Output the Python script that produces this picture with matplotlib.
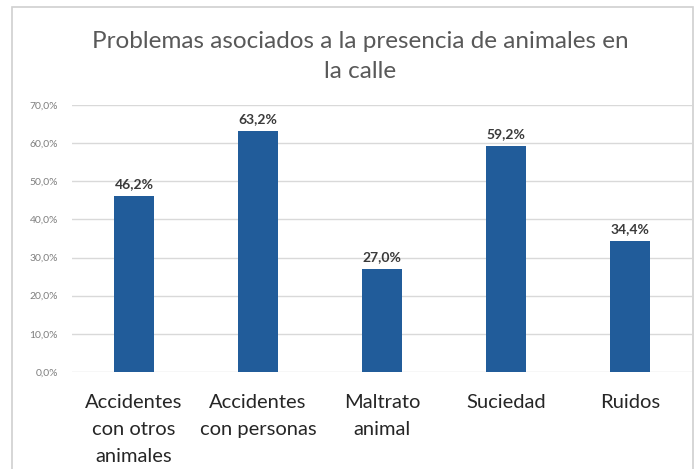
import matplotlib
matplotlib.use("Agg")
import matplotlib.pyplot as plt
from matplotlib.patches import Rectangle
from matplotlib.ticker import FuncFormatter, MultipleLocator

categories = ["Accidentes\ncon otros\nanimales", "Accidentes\ncon personas", "Maltrato\nanimal", "Suciedad", "Ruidos"]
values = [46.2, 63.2, 27.0, 59.2, 34.4]
title = "Problemas asociados a la presencia de animales en\nla calle"

plt.rcParams['font.family'] = ['Lato', 'DejaVu Sans']

fig = plt.figure(figsize=(6.99, 4.69), dpi=100)
ax = fig.add_axes([0.103, 0.207, 0.887, 0.569])

x = range(len(categories))
bars = ax.bar(x, values, width=0.315, color='#215C9A', zorder=3)
for xi, v in zip(x, values):
    ax.text(xi, v + 1.6, f"{v:.1f}%".replace('.', ','), ha='center', va='bottom',
            fontsize=10, fontweight='bold', color='#3A3A3A')

ax.set_xlim(-0.5, len(categories) - 0.5)
ax.set_ylim(0, 70)
ax.yaxis.set_major_locator(MultipleLocator(10))
ax.yaxis.set_major_formatter(FuncFormatter(lambda v, p: f"{v:.1f}%".replace('.', ',')))
ax.grid(axis='y', color='#D9D9D9', linewidth=1, zorder=0)
for s in ax.spines.values():
    s.set_visible(False)
ax.tick_params(axis='y', length=0, labelsize=7.5, labelcolor='#7F7F7F', pad=10)
ax.tick_params(axis='x', length=0, labelsize=14.5, labelcolor='#262626', pad=16)
ax.set_xticks(list(x))
ax.set_xticklabels(categories, linespacing=1.7)

fig.text(0.515, 0.879, title, ha='center', va='center', fontsize=17.5, color='#595959', linespacing=1.55)

fig.patches.append(Rectangle((0.017, -0.01), 0.975, 0.995, transform=fig.transFigure,
                             fill=False, edgecolor='#D0D0D0', linewidth=1.2))

fig.savefig("out.png", dpi=100)
